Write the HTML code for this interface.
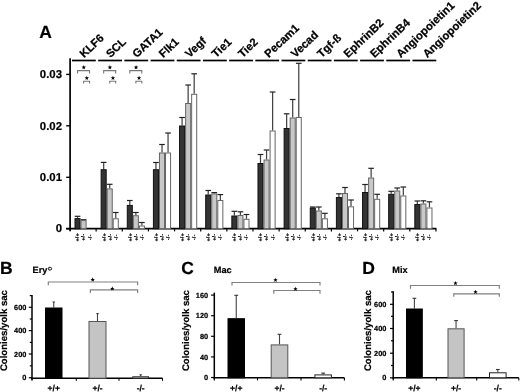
<!DOCTYPE html>
<html><head><meta charset="utf-8"><style>
html,body{margin:0;padding:0;background:#fff;}
body{width:520px;height:392px;overflow:hidden;font-family:"Liberation Sans",sans-serif;}
svg{display:block;filter:grayscale(1);}
text{text-rendering:geometricPrecision;stroke:#000;stroke-width:0.2px;}
</style></head><body>
<svg width="520" height="392" viewBox="0 0 520 392">
<rect width="520" height="392" fill="#fff"/>
<line x1="70.10" y1="58.3" x2="70.10" y2="231.3" stroke="#000" stroke-width="1.7"/>
<line x1="66.2" y1="228.70" x2="436.4" y2="228.70" stroke="#000" stroke-width="1.7"/>
<line x1="66.2" y1="74.40" x2="70.10" y2="74.40" stroke="#000" stroke-width="1.4"/>
<text x="62" y="78.10" font-family="Liberation Sans, sans-serif" font-weight="bold" font-size="11.4" text-anchor="end">0.03</text>
<line x1="66.2" y1="125.80" x2="70.10" y2="125.80" stroke="#000" stroke-width="1.4"/>
<text x="62" y="129.50" font-family="Liberation Sans, sans-serif" font-weight="bold" font-size="11.4" text-anchor="end">0.02</text>
<line x1="66.2" y1="177.30" x2="70.10" y2="177.30" stroke="#000" stroke-width="1.4"/>
<text x="62" y="181.00" font-family="Liberation Sans, sans-serif" font-weight="bold" font-size="11.4" text-anchor="end">0.01</text>
<line x1="66.2" y1="228.70" x2="70.10" y2="228.70" stroke="#000" stroke-width="1.4"/>
<text x="62" y="232.40" font-family="Liberation Sans, sans-serif" font-weight="bold" font-size="11.4" text-anchor="end">0</text>
<line x1="96.14" y1="228.70" x2="96.14" y2="231.4" stroke="#000" stroke-width="1.2"/>
<line x1="122.28" y1="228.70" x2="122.28" y2="231.4" stroke="#000" stroke-width="1.2"/>
<line x1="148.42" y1="228.70" x2="148.42" y2="231.4" stroke="#000" stroke-width="1.2"/>
<line x1="174.56" y1="228.70" x2="174.56" y2="231.4" stroke="#000" stroke-width="1.2"/>
<line x1="200.70" y1="228.70" x2="200.70" y2="231.4" stroke="#000" stroke-width="1.2"/>
<line x1="226.84" y1="228.70" x2="226.84" y2="231.4" stroke="#000" stroke-width="1.2"/>
<line x1="252.98" y1="228.70" x2="252.98" y2="231.4" stroke="#000" stroke-width="1.2"/>
<line x1="279.12" y1="228.70" x2="279.12" y2="231.4" stroke="#000" stroke-width="1.2"/>
<line x1="305.26" y1="228.70" x2="305.26" y2="231.4" stroke="#000" stroke-width="1.2"/>
<line x1="331.40" y1="228.70" x2="331.40" y2="231.4" stroke="#000" stroke-width="1.2"/>
<line x1="357.54" y1="228.70" x2="357.54" y2="231.4" stroke="#000" stroke-width="1.2"/>
<line x1="383.68" y1="228.70" x2="383.68" y2="231.4" stroke="#000" stroke-width="1.2"/>
<line x1="409.82" y1="228.70" x2="409.82" y2="231.4" stroke="#000" stroke-width="1.2"/>
<line x1="435.96" y1="228.70" x2="435.96" y2="231.4" stroke="#000" stroke-width="1.2"/>
<line x1="72.00" y1="60.5" x2="95.80" y2="60.5" stroke="#000" stroke-width="1.7"/>
<line x1="98.19" y1="60.5" x2="121.99" y2="60.5" stroke="#000" stroke-width="1.7"/>
<line x1="124.38" y1="60.5" x2="148.18" y2="60.5" stroke="#000" stroke-width="1.7"/>
<line x1="150.57" y1="60.5" x2="174.37" y2="60.5" stroke="#000" stroke-width="1.7"/>
<line x1="176.76" y1="60.5" x2="200.56" y2="60.5" stroke="#000" stroke-width="1.7"/>
<line x1="202.95" y1="60.5" x2="226.75" y2="60.5" stroke="#000" stroke-width="1.7"/>
<line x1="229.14" y1="60.5" x2="252.94" y2="60.5" stroke="#000" stroke-width="1.7"/>
<line x1="255.33" y1="60.5" x2="279.13" y2="60.5" stroke="#000" stroke-width="1.7"/>
<line x1="281.52" y1="60.5" x2="305.32" y2="60.5" stroke="#000" stroke-width="1.7"/>
<line x1="307.71" y1="60.5" x2="331.51" y2="60.5" stroke="#000" stroke-width="1.7"/>
<line x1="333.90" y1="60.5" x2="357.70" y2="60.5" stroke="#000" stroke-width="1.7"/>
<line x1="360.09" y1="60.5" x2="383.89" y2="60.5" stroke="#000" stroke-width="1.7"/>
<line x1="386.28" y1="60.5" x2="410.08" y2="60.5" stroke="#000" stroke-width="1.7"/>
<line x1="412.47" y1="60.5" x2="436.27" y2="60.5" stroke="#000" stroke-width="1.7"/>
<text transform="translate(84.00 58.30) rotate(-43.5)" style="stroke-width:0.25px" font-family="Liberation Sans, sans-serif" font-weight="bold" font-size="11.3">KLF6</text>
<text transform="translate(110.40 58.30) rotate(-43.5)" style="stroke-width:0.25px" font-family="Liberation Sans, sans-serif" font-weight="bold" font-size="11.3">SCL</text>
<text transform="translate(136.80 58.30) rotate(-43.5)" style="stroke-width:0.25px" font-family="Liberation Sans, sans-serif" font-weight="bold" font-size="11.3">GATA1</text>
<text transform="translate(163.20 58.30) rotate(-43.5)" style="stroke-width:0.25px" font-family="Liberation Sans, sans-serif" font-weight="bold" font-size="11.3">Flk1</text>
<text transform="translate(189.60 58.30) rotate(-43.5)" style="stroke-width:0.25px" font-family="Liberation Sans, sans-serif" font-weight="bold" font-size="11.3">Vegf</text>
<text transform="translate(216.00 58.30) rotate(-43.5)" style="stroke-width:0.25px" font-family="Liberation Sans, sans-serif" font-weight="bold" font-size="11.3">Tie1</text>
<text transform="translate(242.40 58.30) rotate(-43.5)" style="stroke-width:0.25px" font-family="Liberation Sans, sans-serif" font-weight="bold" font-size="11.3">Tie2</text>
<text transform="translate(268.80 58.30) rotate(-43.5)" style="stroke-width:0.25px" font-family="Liberation Sans, sans-serif" font-weight="bold" font-size="11.3">Pecam1</text>
<text transform="translate(295.20 58.30) rotate(-43.5)" style="stroke-width:0.25px" font-family="Liberation Sans, sans-serif" font-weight="bold" font-size="11.3">Vecad</text>
<text transform="translate(321.60 58.30) rotate(-43.5)" style="stroke-width:0.25px" font-family="Liberation Sans, sans-serif" font-weight="bold" font-size="11.3">Tgf-ß</text>
<text transform="translate(348.00 58.30) rotate(-43.5)" style="stroke-width:0.25px" font-family="Liberation Sans, sans-serif" font-weight="bold" font-size="11.3">EphrinB2</text>
<text transform="translate(374.40 58.30) rotate(-43.5)" style="stroke-width:0.25px" font-family="Liberation Sans, sans-serif" font-weight="bold" font-size="11.3">EphrinB4</text>
<text transform="translate(400.80 58.30) rotate(-43.5)" style="stroke-width:0.25px" font-family="Liberation Sans, sans-serif" font-weight="bold" font-size="11.3">Angiopoietin1</text>
<text transform="translate(427.20 58.30) rotate(-43.5)" style="stroke-width:0.25px" font-family="Liberation Sans, sans-serif" font-weight="bold" font-size="11.3">Angiopoietin2</text>
<line x1="77.53" y1="216.30" x2="77.53" y2="218.10" stroke="#444" stroke-width="1.25"/>
<line x1="74.70" y1="216.30" x2="80.35" y2="216.30" stroke="#222" stroke-width="1.2"/>
<rect x="75.00" y="218.60" width="5.05" height="10.10" fill="#333333" stroke="#111111" stroke-width="1"/>
<line x1="83.58" y1="219.70" x2="83.58" y2="220.10" stroke="#444" stroke-width="1.25"/>
<line x1="80.75" y1="219.70" x2="86.40" y2="219.70" stroke="#222" stroke-width="1.2"/>
<rect x="81.05" y="220.60" width="5.05" height="8.10" fill="#c8c8c8" stroke="#666666" stroke-width="1"/>
<text transform="translate(79.43 237.4) rotate(-90)" text-anchor="middle" style="text-rendering:auto;stroke-width:0.1px" font-family="Liberation Sans, sans-serif" font-weight="bold" font-size="5.8" >+/+</text>
<text transform="translate(85.48 237.4) rotate(-90)" text-anchor="middle" style="text-rendering:auto;stroke-width:0.1px" font-family="Liberation Sans, sans-serif" font-weight="bold" font-size="5.8" >+/-</text>
<text transform="translate(91.53 237.4) rotate(-90)" text-anchor="middle" style="text-rendering:auto;stroke-width:0.1px" font-family="Liberation Sans, sans-serif" font-weight="bold" font-size="5.8" >-/-</text>
<line x1="103.67" y1="162.40" x2="103.67" y2="169.20" stroke="#444" stroke-width="1.25"/>
<line x1="100.84" y1="162.40" x2="106.49" y2="162.40" stroke="#222" stroke-width="1.2"/>
<rect x="101.14" y="169.70" width="5.05" height="59.00" fill="#333333" stroke="#111111" stroke-width="1"/>
<line x1="109.72" y1="184.30" x2="109.72" y2="188.40" stroke="#444" stroke-width="1.25"/>
<line x1="106.89" y1="184.30" x2="112.54" y2="184.30" stroke="#222" stroke-width="1.2"/>
<rect x="107.19" y="188.90" width="5.05" height="39.80" fill="#c8c8c8" stroke="#666666" stroke-width="1"/>
<line x1="115.77" y1="212.50" x2="115.77" y2="218.30" stroke="#444" stroke-width="1.25"/>
<line x1="112.94" y1="212.50" x2="118.59" y2="212.50" stroke="#222" stroke-width="1.2"/>
<rect x="113.24" y="218.80" width="5.05" height="9.90" fill="#ffffff" stroke="#666666" stroke-width="1"/>
<text transform="translate(105.57 237.4) rotate(-90)" text-anchor="middle" style="text-rendering:auto;stroke-width:0.1px" font-family="Liberation Sans, sans-serif" font-weight="bold" font-size="5.8" >+/+</text>
<text transform="translate(111.62 237.4) rotate(-90)" text-anchor="middle" style="text-rendering:auto;stroke-width:0.1px" font-family="Liberation Sans, sans-serif" font-weight="bold" font-size="5.8" >+/-</text>
<text transform="translate(117.67 237.4) rotate(-90)" text-anchor="middle" style="text-rendering:auto;stroke-width:0.1px" font-family="Liberation Sans, sans-serif" font-weight="bold" font-size="5.8" >-/-</text>
<line x1="129.81" y1="200.50" x2="129.81" y2="204.90" stroke="#444" stroke-width="1.25"/>
<line x1="126.98" y1="200.50" x2="132.63" y2="200.50" stroke="#222" stroke-width="1.2"/>
<rect x="127.28" y="205.40" width="5.05" height="23.30" fill="#333333" stroke="#111111" stroke-width="1"/>
<line x1="135.86" y1="212.50" x2="135.86" y2="215.20" stroke="#444" stroke-width="1.25"/>
<line x1="133.03" y1="212.50" x2="138.68" y2="212.50" stroke="#222" stroke-width="1.2"/>
<rect x="133.33" y="215.70" width="5.05" height="13.00" fill="#c8c8c8" stroke="#666666" stroke-width="1"/>
<line x1="141.91" y1="222.50" x2="141.91" y2="225.50" stroke="#444" stroke-width="1.25"/>
<line x1="139.08" y1="222.50" x2="144.73" y2="222.50" stroke="#222" stroke-width="1.2"/>
<rect x="139.38" y="226.00" width="5.05" height="2.70" fill="#ffffff" stroke="#666666" stroke-width="1"/>
<text transform="translate(131.71 237.4) rotate(-90)" text-anchor="middle" style="text-rendering:auto;stroke-width:0.1px" font-family="Liberation Sans, sans-serif" font-weight="bold" font-size="5.8" >+/+</text>
<text transform="translate(137.76 237.4) rotate(-90)" text-anchor="middle" style="text-rendering:auto;stroke-width:0.1px" font-family="Liberation Sans, sans-serif" font-weight="bold" font-size="5.8" >+/-</text>
<text transform="translate(143.81 237.4) rotate(-90)" text-anchor="middle" style="text-rendering:auto;stroke-width:0.1px" font-family="Liberation Sans, sans-serif" font-weight="bold" font-size="5.8" >-/-</text>
<line x1="155.95" y1="162.50" x2="155.95" y2="169.20" stroke="#444" stroke-width="1.25"/>
<line x1="153.12" y1="162.50" x2="158.77" y2="162.50" stroke="#222" stroke-width="1.2"/>
<rect x="153.42" y="169.70" width="5.05" height="59.00" fill="#333333" stroke="#111111" stroke-width="1"/>
<line x1="162.00" y1="144.50" x2="162.00" y2="152.50" stroke="#444" stroke-width="1.25"/>
<line x1="159.17" y1="144.50" x2="164.82" y2="144.50" stroke="#222" stroke-width="1.2"/>
<rect x="159.47" y="153.00" width="5.05" height="75.70" fill="#c8c8c8" stroke="#666666" stroke-width="1"/>
<line x1="168.05" y1="133.00" x2="168.05" y2="152.50" stroke="#444" stroke-width="1.25"/>
<line x1="165.22" y1="133.00" x2="170.87" y2="133.00" stroke="#222" stroke-width="1.2"/>
<rect x="165.52" y="153.00" width="5.05" height="75.70" fill="#ffffff" stroke="#666666" stroke-width="1"/>
<text transform="translate(157.85 237.4) rotate(-90)" text-anchor="middle" style="text-rendering:auto;stroke-width:0.1px" font-family="Liberation Sans, sans-serif" font-weight="bold" font-size="5.8" >+/+</text>
<text transform="translate(163.90 237.4) rotate(-90)" text-anchor="middle" style="text-rendering:auto;stroke-width:0.1px" font-family="Liberation Sans, sans-serif" font-weight="bold" font-size="5.8" >+/-</text>
<text transform="translate(169.95 237.4) rotate(-90)" text-anchor="middle" style="text-rendering:auto;stroke-width:0.1px" font-family="Liberation Sans, sans-serif" font-weight="bold" font-size="5.8" >-/-</text>
<line x1="182.09" y1="117.50" x2="182.09" y2="125.50" stroke="#444" stroke-width="1.25"/>
<line x1="179.26" y1="117.50" x2="184.91" y2="117.50" stroke="#222" stroke-width="1.2"/>
<rect x="179.56" y="126.00" width="5.05" height="102.70" fill="#333333" stroke="#111111" stroke-width="1"/>
<line x1="188.14" y1="85.00" x2="188.14" y2="103.00" stroke="#444" stroke-width="1.25"/>
<line x1="185.31" y1="85.00" x2="190.96" y2="85.00" stroke="#222" stroke-width="1.2"/>
<rect x="185.61" y="103.50" width="5.05" height="125.20" fill="#c8c8c8" stroke="#666666" stroke-width="1"/>
<line x1="194.19" y1="73.80" x2="194.19" y2="93.80" stroke="#444" stroke-width="1.25"/>
<line x1="191.36" y1="73.80" x2="197.01" y2="73.80" stroke="#222" stroke-width="1.2"/>
<rect x="191.66" y="94.30" width="5.05" height="134.40" fill="#ffffff" stroke="#666666" stroke-width="1"/>
<text transform="translate(183.99 237.4) rotate(-90)" text-anchor="middle" style="text-rendering:auto;stroke-width:0.1px" font-family="Liberation Sans, sans-serif" font-weight="bold" font-size="5.8" >+/+</text>
<text transform="translate(190.04 237.4) rotate(-90)" text-anchor="middle" style="text-rendering:auto;stroke-width:0.1px" font-family="Liberation Sans, sans-serif" font-weight="bold" font-size="5.8" >+/-</text>
<text transform="translate(196.09 237.4) rotate(-90)" text-anchor="middle" style="text-rendering:auto;stroke-width:0.1px" font-family="Liberation Sans, sans-serif" font-weight="bold" font-size="5.8" >-/-</text>
<line x1="208.22" y1="190.50" x2="208.22" y2="194.50" stroke="#444" stroke-width="1.25"/>
<line x1="205.40" y1="190.50" x2="211.05" y2="190.50" stroke="#222" stroke-width="1.2"/>
<rect x="205.70" y="195.00" width="5.05" height="33.70" fill="#333333" stroke="#111111" stroke-width="1"/>
<line x1="214.28" y1="192.60" x2="214.28" y2="193.40" stroke="#444" stroke-width="1.25"/>
<line x1="211.45" y1="192.60" x2="217.10" y2="192.60" stroke="#222" stroke-width="1.2"/>
<rect x="211.75" y="193.90" width="5.05" height="34.80" fill="#c8c8c8" stroke="#666666" stroke-width="1"/>
<line x1="220.32" y1="194.60" x2="220.32" y2="200.00" stroke="#444" stroke-width="1.25"/>
<line x1="217.50" y1="194.60" x2="223.15" y2="194.60" stroke="#222" stroke-width="1.2"/>
<rect x="217.80" y="200.50" width="5.05" height="28.20" fill="#ffffff" stroke="#666666" stroke-width="1"/>
<text transform="translate(210.12 237.4) rotate(-90)" text-anchor="middle" style="text-rendering:auto;stroke-width:0.1px" font-family="Liberation Sans, sans-serif" font-weight="bold" font-size="5.8" >+/+</text>
<text transform="translate(216.18 237.4) rotate(-90)" text-anchor="middle" style="text-rendering:auto;stroke-width:0.1px" font-family="Liberation Sans, sans-serif" font-weight="bold" font-size="5.8" >+/-</text>
<text transform="translate(222.22 237.4) rotate(-90)" text-anchor="middle" style="text-rendering:auto;stroke-width:0.1px" font-family="Liberation Sans, sans-serif" font-weight="bold" font-size="5.8" >-/-</text>
<line x1="234.37" y1="211.30" x2="234.37" y2="215.50" stroke="#444" stroke-width="1.25"/>
<line x1="231.54" y1="211.30" x2="237.19" y2="211.30" stroke="#222" stroke-width="1.2"/>
<rect x="231.84" y="216.00" width="5.05" height="12.70" fill="#333333" stroke="#111111" stroke-width="1"/>
<line x1="240.42" y1="211.80" x2="240.42" y2="215.00" stroke="#444" stroke-width="1.25"/>
<line x1="237.59" y1="211.80" x2="243.24" y2="211.80" stroke="#222" stroke-width="1.2"/>
<rect x="237.89" y="215.50" width="5.05" height="13.20" fill="#c8c8c8" stroke="#666666" stroke-width="1"/>
<line x1="246.47" y1="214.50" x2="246.47" y2="218.80" stroke="#444" stroke-width="1.25"/>
<line x1="243.64" y1="214.50" x2="249.29" y2="214.50" stroke="#222" stroke-width="1.2"/>
<rect x="243.94" y="219.30" width="5.05" height="9.40" fill="#ffffff" stroke="#666666" stroke-width="1"/>
<text transform="translate(236.27 237.4) rotate(-90)" text-anchor="middle" style="text-rendering:auto;stroke-width:0.1px" font-family="Liberation Sans, sans-serif" font-weight="bold" font-size="5.8" >+/+</text>
<text transform="translate(242.32 237.4) rotate(-90)" text-anchor="middle" style="text-rendering:auto;stroke-width:0.1px" font-family="Liberation Sans, sans-serif" font-weight="bold" font-size="5.8" >+/-</text>
<text transform="translate(248.37 237.4) rotate(-90)" text-anchor="middle" style="text-rendering:auto;stroke-width:0.1px" font-family="Liberation Sans, sans-serif" font-weight="bold" font-size="5.8" >-/-</text>
<line x1="260.50" y1="154.50" x2="260.50" y2="163.00" stroke="#444" stroke-width="1.25"/>
<line x1="257.68" y1="154.50" x2="263.33" y2="154.50" stroke="#222" stroke-width="1.2"/>
<rect x="257.98" y="163.50" width="5.05" height="65.20" fill="#333333" stroke="#111111" stroke-width="1"/>
<line x1="266.56" y1="150.00" x2="266.56" y2="159.50" stroke="#444" stroke-width="1.25"/>
<line x1="263.73" y1="150.00" x2="269.38" y2="150.00" stroke="#222" stroke-width="1.2"/>
<rect x="264.03" y="160.00" width="5.05" height="68.70" fill="#c8c8c8" stroke="#666666" stroke-width="1"/>
<line x1="272.61" y1="92.00" x2="272.61" y2="130.50" stroke="#444" stroke-width="1.25"/>
<line x1="269.78" y1="92.00" x2="275.43" y2="92.00" stroke="#222" stroke-width="1.2"/>
<rect x="270.08" y="131.00" width="5.05" height="97.70" fill="#ffffff" stroke="#666666" stroke-width="1"/>
<text transform="translate(262.40 237.4) rotate(-90)" text-anchor="middle" style="text-rendering:auto;stroke-width:0.1px" font-family="Liberation Sans, sans-serif" font-weight="bold" font-size="5.8" >+/+</text>
<text transform="translate(268.45 237.4) rotate(-90)" text-anchor="middle" style="text-rendering:auto;stroke-width:0.1px" font-family="Liberation Sans, sans-serif" font-weight="bold" font-size="5.8" >+/-</text>
<text transform="translate(274.50 237.4) rotate(-90)" text-anchor="middle" style="text-rendering:auto;stroke-width:0.1px" font-family="Liberation Sans, sans-serif" font-weight="bold" font-size="5.8" >-/-</text>
<line x1="286.64" y1="113.80" x2="286.64" y2="128.00" stroke="#444" stroke-width="1.25"/>
<line x1="283.82" y1="113.80" x2="289.47" y2="113.80" stroke="#222" stroke-width="1.2"/>
<rect x="284.12" y="128.50" width="5.05" height="100.20" fill="#333333" stroke="#111111" stroke-width="1"/>
<line x1="292.69" y1="99.50" x2="292.69" y2="117.50" stroke="#444" stroke-width="1.25"/>
<line x1="289.87" y1="99.50" x2="295.52" y2="99.50" stroke="#222" stroke-width="1.2"/>
<rect x="290.17" y="118.00" width="5.05" height="110.70" fill="#c8c8c8" stroke="#666666" stroke-width="1"/>
<line x1="298.75" y1="63.30" x2="298.75" y2="117.00" stroke="#444" stroke-width="1.25"/>
<line x1="295.92" y1="63.30" x2="301.57" y2="63.30" stroke="#222" stroke-width="1.2"/>
<rect x="296.22" y="117.50" width="5.05" height="111.20" fill="#ffffff" stroke="#666666" stroke-width="1"/>
<text transform="translate(288.54 237.4) rotate(-90)" text-anchor="middle" style="text-rendering:auto;stroke-width:0.1px" font-family="Liberation Sans, sans-serif" font-weight="bold" font-size="5.8" >+/+</text>
<text transform="translate(294.59 237.4) rotate(-90)" text-anchor="middle" style="text-rendering:auto;stroke-width:0.1px" font-family="Liberation Sans, sans-serif" font-weight="bold" font-size="5.8" >+/-</text>
<text transform="translate(300.64 237.4) rotate(-90)" text-anchor="middle" style="text-rendering:auto;stroke-width:0.1px" font-family="Liberation Sans, sans-serif" font-weight="bold" font-size="5.8" >-/-</text>
<line x1="312.78" y1="207.00" x2="312.78" y2="207.50" stroke="#444" stroke-width="1.25"/>
<line x1="309.96" y1="207.00" x2="315.61" y2="207.00" stroke="#222" stroke-width="1.2"/>
<rect x="310.26" y="208.00" width="5.05" height="20.70" fill="#333333" stroke="#111111" stroke-width="1"/>
<line x1="318.83" y1="207.00" x2="318.83" y2="210.50" stroke="#444" stroke-width="1.25"/>
<line x1="316.01" y1="207.00" x2="321.66" y2="207.00" stroke="#222" stroke-width="1.2"/>
<rect x="316.31" y="211.00" width="5.05" height="17.70" fill="#c8c8c8" stroke="#666666" stroke-width="1"/>
<line x1="324.88" y1="213.30" x2="324.88" y2="218.30" stroke="#444" stroke-width="1.25"/>
<line x1="322.06" y1="213.30" x2="327.71" y2="213.30" stroke="#222" stroke-width="1.2"/>
<rect x="322.36" y="218.80" width="5.05" height="9.90" fill="#ffffff" stroke="#666666" stroke-width="1"/>
<text transform="translate(314.68 237.4) rotate(-90)" text-anchor="middle" style="text-rendering:auto;stroke-width:0.1px" font-family="Liberation Sans, sans-serif" font-weight="bold" font-size="5.8" >+/+</text>
<text transform="translate(320.73 237.4) rotate(-90)" text-anchor="middle" style="text-rendering:auto;stroke-width:0.1px" font-family="Liberation Sans, sans-serif" font-weight="bold" font-size="5.8" >+/-</text>
<text transform="translate(326.78 237.4) rotate(-90)" text-anchor="middle" style="text-rendering:auto;stroke-width:0.1px" font-family="Liberation Sans, sans-serif" font-weight="bold" font-size="5.8" >-/-</text>
<line x1="338.92" y1="193.80" x2="338.92" y2="197.00" stroke="#444" stroke-width="1.25"/>
<line x1="336.10" y1="193.80" x2="341.75" y2="193.80" stroke="#222" stroke-width="1.2"/>
<rect x="336.40" y="197.50" width="5.05" height="31.20" fill="#333333" stroke="#111111" stroke-width="1"/>
<line x1="344.97" y1="187.50" x2="344.97" y2="193.00" stroke="#444" stroke-width="1.25"/>
<line x1="342.15" y1="187.50" x2="347.80" y2="187.50" stroke="#222" stroke-width="1.2"/>
<rect x="342.45" y="193.50" width="5.05" height="35.20" fill="#c8c8c8" stroke="#666666" stroke-width="1"/>
<line x1="351.02" y1="200.00" x2="351.02" y2="206.30" stroke="#444" stroke-width="1.25"/>
<line x1="348.20" y1="200.00" x2="353.85" y2="200.00" stroke="#222" stroke-width="1.2"/>
<rect x="348.50" y="206.80" width="5.05" height="21.90" fill="#ffffff" stroke="#666666" stroke-width="1"/>
<text transform="translate(340.82 237.4) rotate(-90)" text-anchor="middle" style="text-rendering:auto;stroke-width:0.1px" font-family="Liberation Sans, sans-serif" font-weight="bold" font-size="5.8" >+/+</text>
<text transform="translate(346.87 237.4) rotate(-90)" text-anchor="middle" style="text-rendering:auto;stroke-width:0.1px" font-family="Liberation Sans, sans-serif" font-weight="bold" font-size="5.8" >+/-</text>
<text transform="translate(352.92 237.4) rotate(-90)" text-anchor="middle" style="text-rendering:auto;stroke-width:0.1px" font-family="Liberation Sans, sans-serif" font-weight="bold" font-size="5.8" >-/-</text>
<line x1="365.06" y1="184.50" x2="365.06" y2="192.00" stroke="#444" stroke-width="1.25"/>
<line x1="362.24" y1="184.50" x2="367.89" y2="184.50" stroke="#222" stroke-width="1.2"/>
<rect x="362.54" y="192.50" width="5.05" height="36.20" fill="#333333" stroke="#111111" stroke-width="1"/>
<line x1="371.12" y1="168.30" x2="371.12" y2="177.50" stroke="#444" stroke-width="1.25"/>
<line x1="368.29" y1="168.30" x2="373.94" y2="168.30" stroke="#222" stroke-width="1.2"/>
<rect x="368.59" y="178.00" width="5.05" height="50.70" fill="#c8c8c8" stroke="#666666" stroke-width="1"/>
<line x1="377.17" y1="194.30" x2="377.17" y2="198.80" stroke="#444" stroke-width="1.25"/>
<line x1="374.34" y1="194.30" x2="379.99" y2="194.30" stroke="#222" stroke-width="1.2"/>
<rect x="374.64" y="199.30" width="5.05" height="29.40" fill="#ffffff" stroke="#666666" stroke-width="1"/>
<text transform="translate(366.96 237.4) rotate(-90)" text-anchor="middle" style="text-rendering:auto;stroke-width:0.1px" font-family="Liberation Sans, sans-serif" font-weight="bold" font-size="5.8" >+/+</text>
<text transform="translate(373.01 237.4) rotate(-90)" text-anchor="middle" style="text-rendering:auto;stroke-width:0.1px" font-family="Liberation Sans, sans-serif" font-weight="bold" font-size="5.8" >+/-</text>
<text transform="translate(379.06 237.4) rotate(-90)" text-anchor="middle" style="text-rendering:auto;stroke-width:0.1px" font-family="Liberation Sans, sans-serif" font-weight="bold" font-size="5.8" >-/-</text>
<line x1="391.20" y1="191.30" x2="391.20" y2="193.80" stroke="#444" stroke-width="1.25"/>
<line x1="388.38" y1="191.30" x2="394.03" y2="191.30" stroke="#222" stroke-width="1.2"/>
<rect x="388.68" y="194.30" width="5.05" height="34.40" fill="#333333" stroke="#111111" stroke-width="1"/>
<line x1="397.25" y1="188.00" x2="397.25" y2="190.50" stroke="#444" stroke-width="1.25"/>
<line x1="394.43" y1="188.00" x2="400.08" y2="188.00" stroke="#222" stroke-width="1.2"/>
<rect x="394.73" y="191.00" width="5.05" height="37.70" fill="#c8c8c8" stroke="#666666" stroke-width="1"/>
<line x1="403.31" y1="187.00" x2="403.31" y2="195.50" stroke="#444" stroke-width="1.25"/>
<line x1="400.48" y1="187.00" x2="406.13" y2="187.00" stroke="#222" stroke-width="1.2"/>
<rect x="400.78" y="196.00" width="5.05" height="32.70" fill="#ffffff" stroke="#666666" stroke-width="1"/>
<text transform="translate(393.10 237.4) rotate(-90)" text-anchor="middle" style="text-rendering:auto;stroke-width:0.1px" font-family="Liberation Sans, sans-serif" font-weight="bold" font-size="5.8" >+/+</text>
<text transform="translate(399.15 237.4) rotate(-90)" text-anchor="middle" style="text-rendering:auto;stroke-width:0.1px" font-family="Liberation Sans, sans-serif" font-weight="bold" font-size="5.8" >+/-</text>
<text transform="translate(405.20 237.4) rotate(-90)" text-anchor="middle" style="text-rendering:auto;stroke-width:0.1px" font-family="Liberation Sans, sans-serif" font-weight="bold" font-size="5.8" >-/-</text>
<line x1="417.34" y1="201.00" x2="417.34" y2="204.00" stroke="#444" stroke-width="1.25"/>
<line x1="414.52" y1="201.00" x2="420.17" y2="201.00" stroke="#222" stroke-width="1.2"/>
<rect x="414.82" y="204.50" width="5.05" height="24.20" fill="#333333" stroke="#111111" stroke-width="1"/>
<line x1="423.39" y1="200.80" x2="423.39" y2="203.50" stroke="#444" stroke-width="1.25"/>
<line x1="420.57" y1="200.80" x2="426.22" y2="200.80" stroke="#222" stroke-width="1.2"/>
<rect x="420.87" y="204.00" width="5.05" height="24.70" fill="#c8c8c8" stroke="#666666" stroke-width="1"/>
<line x1="429.44" y1="201.80" x2="429.44" y2="207.50" stroke="#444" stroke-width="1.25"/>
<line x1="426.62" y1="201.80" x2="432.27" y2="201.80" stroke="#222" stroke-width="1.2"/>
<rect x="426.92" y="208.00" width="5.05" height="20.70" fill="#ffffff" stroke="#666666" stroke-width="1"/>
<text transform="translate(419.24 237.4) rotate(-90)" text-anchor="middle" style="text-rendering:auto;stroke-width:0.1px" font-family="Liberation Sans, sans-serif" font-weight="bold" font-size="5.8" >+/+</text>
<text transform="translate(425.29 237.4) rotate(-90)" text-anchor="middle" style="text-rendering:auto;stroke-width:0.1px" font-family="Liberation Sans, sans-serif" font-weight="bold" font-size="5.8" >+/-</text>
<text transform="translate(431.34 237.4) rotate(-90)" text-anchor="middle" style="text-rendering:auto;stroke-width:0.1px" font-family="Liberation Sans, sans-serif" font-weight="bold" font-size="5.8" >-/-</text>
<path d="M77.53 73.40 V70.60 H89.53 V73.40" fill="none" stroke="#777" stroke-width="1.10"/>
<polygon points="83.78,65.05 84.36,66.60 86.01,66.67 84.71,67.70 85.16,69.30 83.78,68.39 82.39,69.30 82.84,67.70 81.54,66.67 83.19,66.60" fill="#000"/>
<path d="M83.58 83.50 V81.20 H89.53 V83.50" fill="none" stroke="#777" stroke-width="1.10"/>
<polygon points="86.80,75.65 87.38,77.20 89.03,77.27 87.74,78.30 88.18,79.90 86.80,78.99 85.42,79.90 85.86,78.30 84.57,77.27 86.22,77.20" fill="#000"/>
<path d="M103.67 73.40 V70.60 H115.67 V73.40" fill="none" stroke="#777" stroke-width="1.10"/>
<polygon points="109.92,65.05 110.50,66.60 112.15,66.67 110.85,67.70 111.30,69.30 109.92,68.39 108.53,69.30 108.98,67.70 107.68,66.67 109.33,66.60" fill="#000"/>
<path d="M109.72 83.50 V81.20 H115.67 V83.50" fill="none" stroke="#777" stroke-width="1.10"/>
<polygon points="112.94,75.65 113.52,77.20 115.17,77.27 113.88,78.30 114.32,79.90 112.94,78.99 111.56,79.90 112.00,78.30 110.71,77.27 112.36,77.20" fill="#000"/>
<path d="M129.81 73.40 V70.60 H141.81 V73.40" fill="none" stroke="#777" stroke-width="1.10"/>
<polygon points="136.06,65.05 136.64,66.60 138.29,66.67 136.99,67.70 137.44,69.30 136.06,68.39 134.67,69.30 135.12,67.70 133.82,66.67 135.47,66.60" fill="#000"/>
<path d="M135.85 83.50 V81.20 H141.81 V83.50" fill="none" stroke="#777" stroke-width="1.10"/>
<polygon points="139.08,75.65 139.66,77.20 141.31,77.27 140.02,78.30 140.46,79.90 139.08,78.99 137.70,79.90 138.14,78.30 136.85,77.27 138.50,77.20" fill="#000"/>
<text x="39.3" y="37.8" font-family="Liberation Sans, sans-serif" font-weight="bold" font-size="17.5">A</text>
<text x="0.00" y="273.60" font-family="Liberation Sans, sans-serif" font-weight="bold" font-size="17.5">B</text>
<text transform="translate(32.60 272.95) " text-rendering="geometricPrecision" font-family="Liberation Sans, sans-serif" font-weight="bold" font-size="9.2">Ery</text>
<path d="M48.75 267.35 V270.05 H50.2 Q51.65 270.05 51.65 268.7 Q51.65 267.35 50.2 267.35 Z" fill="none" stroke="#111" stroke-width="0.95"/>
<line x1="32.00" y1="295.00" x2="32.00" y2="379.70" stroke="#000" stroke-width="1.5"/>
<line x1="28.80" y1="307.30" x2="32.00" y2="307.30" stroke="#000" stroke-width="1.2"/>
<text x="26.40" y="309.90" font-family="Liberation Sans, sans-serif" font-weight="bold" font-size="7.4" text-anchor="end">600</text>
<line x1="28.80" y1="330.60" x2="32.00" y2="330.60" stroke="#000" stroke-width="1.2"/>
<text x="26.40" y="333.20" font-family="Liberation Sans, sans-serif" font-weight="bold" font-size="7.4" text-anchor="end">400</text>
<line x1="28.80" y1="354.00" x2="32.00" y2="354.00" stroke="#000" stroke-width="1.2"/>
<text x="26.40" y="356.60" font-family="Liberation Sans, sans-serif" font-weight="bold" font-size="7.4" text-anchor="end">200</text>
<line x1="28.80" y1="377.70" x2="32.00" y2="377.70" stroke="#000" stroke-width="1.2"/>
<text x="26.40" y="380.30" font-family="Liberation Sans, sans-serif" font-weight="bold" font-size="7.4" text-anchor="end">0</text>
<line x1="29.80" y1="295.60" x2="32.00" y2="295.60" stroke="#000" stroke-width="1.2"/>
<line x1="29.80" y1="319.00" x2="32.00" y2="319.00" stroke="#000" stroke-width="1.2"/>
<line x1="29.80" y1="342.40" x2="32.00" y2="342.40" stroke="#000" stroke-width="1.2"/>
<line x1="29.80" y1="365.80" x2="32.00" y2="365.80" stroke="#000" stroke-width="1.2"/>
<line x1="31.30" y1="378.20" x2="162.50" y2="378.20" stroke="#000" stroke-width="1.6"/>
<line x1="32.00" y1="378.20" x2="32.00" y2="380.80" stroke="#000" stroke-width="1.1"/>
<line x1="76.30" y1="378.20" x2="76.30" y2="380.80" stroke="#000" stroke-width="1.1"/>
<line x1="119.00" y1="378.20" x2="119.00" y2="380.80" stroke="#000" stroke-width="1.1"/>
<line x1="162.50" y1="378.20" x2="162.50" y2="380.80" stroke="#000" stroke-width="1.1"/>
<line x1="53.75" y1="302.00" x2="53.75" y2="307.50" stroke="#444" stroke-width="1.1"/>
<line x1="52.60" y1="302.00" x2="54.90" y2="302.00" stroke="#333" stroke-width="1.1"/>
<rect x="45.50" y="308.00" width="16.50" height="70.20" fill="#000000" stroke="#000000" stroke-width="1"/>
<text x="53.75" y="391.2" font-family="Liberation Sans, sans-serif" font-weight="bold" font-size="8.5" text-anchor="middle">+/+</text>
<line x1="97.50" y1="313.60" x2="97.50" y2="321.00" stroke="#444" stroke-width="1.1"/>
<line x1="96.35" y1="313.60" x2="98.65" y2="313.60" stroke="#333" stroke-width="1.1"/>
<rect x="89.00" y="321.50" width="17.00" height="56.70" fill="#c4c4c4" stroke="#555555" stroke-width="1"/>
<text x="97.50" y="391.2" font-family="Liberation Sans, sans-serif" font-weight="bold" font-size="8.5" text-anchor="middle">+/-</text>
<line x1="140.65" y1="374.80" x2="140.65" y2="376.30" stroke="#444" stroke-width="1.1"/>
<line x1="139.50" y1="374.80" x2="141.80" y2="374.80" stroke="#333" stroke-width="1.1"/>
<rect x="132.80" y="376.80" width="15.70" height="1.40" fill="#ffffff" stroke="#222222" stroke-width="1"/>
<text x="140.65" y="391.2" font-family="Liberation Sans, sans-serif" font-weight="bold" font-size="8.5" text-anchor="middle">-/-</text>
<path d="M48.30 285.20 V282.00 H137.60 V285.20" fill="none" stroke="#808080" stroke-width="1.20"/>
<polygon points="92.70,277.35 93.28,278.90 94.93,278.97 93.64,280.00 94.08,281.60 92.70,280.69 91.32,281.60 91.76,280.00 90.47,278.97 92.12,278.90" fill="#000"/>
<path d="M90.40 293.00 V289.80 H137.60 V293.00" fill="none" stroke="#808080" stroke-width="1.20"/>
<polygon points="112.30,286.35 112.88,287.90 114.53,287.97 113.24,289.00 113.68,290.60 112.30,289.69 110.92,290.60 111.36,289.00 110.07,287.97 111.72,287.90" fill="#000"/>
<text transform="translate(7.30 330.6) rotate(-90)" font-family="Liberation Sans, sans-serif" font-weight="bold" font-size="9.6" text-anchor="middle">Colonies/yolk sac</text>
<text x="181.30" y="273.60" font-family="Liberation Sans, sans-serif" font-weight="bold" font-size="17.5">C</text>
<text transform="translate(213.80 272.95) " text-rendering="geometricPrecision" font-family="Liberation Sans, sans-serif" font-weight="bold" font-size="9.2">Mac</text>
<line x1="214.30" y1="292.60" x2="214.30" y2="379.30" stroke="#000" stroke-width="1.5"/>
<line x1="211.10" y1="295.10" x2="214.30" y2="295.10" stroke="#000" stroke-width="1.2"/>
<text x="208.20" y="297.70" font-family="Liberation Sans, sans-serif" font-weight="bold" font-size="7.4" text-anchor="end">160</text>
<line x1="211.10" y1="315.70" x2="214.30" y2="315.70" stroke="#000" stroke-width="1.2"/>
<text x="208.20" y="318.30" font-family="Liberation Sans, sans-serif" font-weight="bold" font-size="7.4" text-anchor="end">120</text>
<line x1="211.10" y1="336.30" x2="214.30" y2="336.30" stroke="#000" stroke-width="1.2"/>
<text x="208.20" y="338.90" font-family="Liberation Sans, sans-serif" font-weight="bold" font-size="7.4" text-anchor="end">80</text>
<line x1="211.10" y1="356.90" x2="214.30" y2="356.90" stroke="#000" stroke-width="1.2"/>
<text x="208.20" y="359.50" font-family="Liberation Sans, sans-serif" font-weight="bold" font-size="7.4" text-anchor="end">40</text>
<line x1="211.10" y1="377.50" x2="214.30" y2="377.50" stroke="#000" stroke-width="1.2"/>
<text x="208.20" y="380.10" font-family="Liberation Sans, sans-serif" font-weight="bold" font-size="7.4" text-anchor="end">0</text>
<line x1="213.60" y1="377.80" x2="344.40" y2="377.80" stroke="#000" stroke-width="1.6"/>
<line x1="214.30" y1="377.80" x2="214.30" y2="380.40" stroke="#000" stroke-width="1.1"/>
<line x1="257.50" y1="377.80" x2="257.50" y2="380.40" stroke="#000" stroke-width="1.1"/>
<line x1="301.00" y1="377.80" x2="301.00" y2="380.40" stroke="#000" stroke-width="1.1"/>
<line x1="344.40" y1="377.80" x2="344.40" y2="380.40" stroke="#000" stroke-width="1.1"/>
<line x1="236.25" y1="295.30" x2="236.25" y2="318.20" stroke="#444" stroke-width="1.1"/>
<line x1="234.35" y1="295.30" x2="238.15" y2="295.30" stroke="#333" stroke-width="1.1"/>
<rect x="228.00" y="318.70" width="16.50" height="59.10" fill="#000000" stroke="#000000" stroke-width="1"/>
<text x="236.25" y="391.2" font-family="Liberation Sans, sans-serif" font-weight="bold" font-size="8.5" text-anchor="middle">+/+</text>
<line x1="279.50" y1="334.30" x2="279.50" y2="344.40" stroke="#444" stroke-width="1.1"/>
<line x1="277.60" y1="334.30" x2="281.40" y2="334.30" stroke="#333" stroke-width="1.1"/>
<rect x="271.20" y="344.90" width="16.60" height="32.90" fill="#c4c4c4" stroke="#555555" stroke-width="1"/>
<text x="279.50" y="391.2" font-family="Liberation Sans, sans-serif" font-weight="bold" font-size="8.5" text-anchor="middle">+/-</text>
<line x1="323.15" y1="373.10" x2="323.15" y2="374.40" stroke="#444" stroke-width="1.1"/>
<line x1="321.25" y1="373.10" x2="325.05" y2="373.10" stroke="#333" stroke-width="1.1"/>
<rect x="314.90" y="374.90" width="16.50" height="2.90" fill="#ffffff" stroke="#222222" stroke-width="1"/>
<text x="323.15" y="391.2" font-family="Liberation Sans, sans-serif" font-weight="bold" font-size="8.5" text-anchor="middle">-/-</text>
<path d="M232.00 285.50 V282.50 H320.00 V285.50" fill="none" stroke="#808080" stroke-width="1.20"/>
<polygon points="275.50,277.65 276.08,279.20 277.73,279.27 276.44,280.30 276.88,281.90 275.50,280.99 274.12,281.90 274.56,280.30 273.27,279.27 274.92,279.20" fill="#000"/>
<path d="M273.80 293.70 V290.50 H320.00 V293.70" fill="none" stroke="#808080" stroke-width="1.20"/>
<polygon points="295.50,286.65 296.08,288.20 297.73,288.27 296.44,289.30 296.88,290.90 295.50,289.99 294.12,290.90 294.56,289.30 293.27,288.27 294.92,288.20" fill="#000"/>
<text transform="translate(189.30 330.6) rotate(-90)" font-family="Liberation Sans, sans-serif" font-weight="bold" font-size="9.6" text-anchor="middle">Colonies/yolk sac</text>
<text x="362.30" y="274.10" font-family="Liberation Sans, sans-serif" font-weight="bold" font-size="17.5">D</text>
<text transform="translate(392.30 272.95) " text-rendering="geometricPrecision" font-family="Liberation Sans, sans-serif" font-weight="bold" font-size="9.2">Mix</text>
<line x1="393.20" y1="291.30" x2="393.20" y2="379.30" stroke="#000" stroke-width="1.5"/>
<line x1="390.00" y1="304.30" x2="393.20" y2="304.30" stroke="#000" stroke-width="1.2"/>
<text x="386.40" y="306.90" font-family="Liberation Sans, sans-serif" font-weight="bold" font-size="7.4" text-anchor="end">600</text>
<line x1="390.00" y1="328.50" x2="393.20" y2="328.50" stroke="#000" stroke-width="1.2"/>
<text x="386.40" y="331.10" font-family="Liberation Sans, sans-serif" font-weight="bold" font-size="7.4" text-anchor="end">400</text>
<line x1="390.00" y1="353.20" x2="393.20" y2="353.20" stroke="#000" stroke-width="1.2"/>
<text x="386.40" y="355.80" font-family="Liberation Sans, sans-serif" font-weight="bold" font-size="7.4" text-anchor="end">200</text>
<line x1="390.00" y1="377.80" x2="393.20" y2="377.80" stroke="#000" stroke-width="1.2"/>
<text x="386.40" y="380.40" font-family="Liberation Sans, sans-serif" font-weight="bold" font-size="7.4" text-anchor="end">0</text>
<line x1="391.00" y1="292.00" x2="393.20" y2="292.00" stroke="#000" stroke-width="1.2"/>
<line x1="391.00" y1="316.30" x2="393.20" y2="316.30" stroke="#000" stroke-width="1.2"/>
<line x1="391.00" y1="340.80" x2="393.20" y2="340.80" stroke="#000" stroke-width="1.2"/>
<line x1="391.00" y1="365.50" x2="393.20" y2="365.50" stroke="#000" stroke-width="1.2"/>
<line x1="392.50" y1="377.80" x2="518.80" y2="377.80" stroke="#000" stroke-width="1.6"/>
<line x1="393.20" y1="377.80" x2="393.20" y2="380.40" stroke="#000" stroke-width="1.1"/>
<line x1="436.30" y1="377.80" x2="436.30" y2="380.40" stroke="#000" stroke-width="1.1"/>
<line x1="476.70" y1="377.80" x2="476.70" y2="380.40" stroke="#000" stroke-width="1.1"/>
<line x1="518.80" y1="377.80" x2="518.80" y2="380.40" stroke="#000" stroke-width="1.1"/>
<line x1="414.40" y1="298.30" x2="414.40" y2="308.50" stroke="#444" stroke-width="1.1"/>
<line x1="412.55" y1="298.30" x2="416.25" y2="298.30" stroke="#333" stroke-width="1.1"/>
<rect x="406.50" y="309.00" width="15.80" height="68.80" fill="#000000" stroke="#000000" stroke-width="1"/>
<text x="414.40" y="391.2" font-family="Liberation Sans, sans-serif" font-weight="bold" font-size="8.5" text-anchor="middle">+/+</text>
<line x1="456.05" y1="320.60" x2="456.05" y2="328.30" stroke="#444" stroke-width="1.1"/>
<line x1="454.20" y1="320.60" x2="457.90" y2="320.60" stroke="#333" stroke-width="1.1"/>
<rect x="448.00" y="328.80" width="16.10" height="49.00" fill="#c4c4c4" stroke="#555555" stroke-width="1"/>
<text x="456.05" y="391.2" font-family="Liberation Sans, sans-serif" font-weight="bold" font-size="8.5" text-anchor="middle">+/-</text>
<line x1="497.80" y1="369.50" x2="497.80" y2="372.30" stroke="#444" stroke-width="1.1"/>
<line x1="495.95" y1="369.50" x2="499.65" y2="369.50" stroke="#333" stroke-width="1.1"/>
<rect x="489.50" y="372.80" width="16.60" height="5.00" fill="#ffffff" stroke="#222222" stroke-width="1"/>
<text x="497.80" y="391.2" font-family="Liberation Sans, sans-serif" font-weight="bold" font-size="8.5" text-anchor="middle">-/-</text>
<path d="M410.50 288.70 V285.50 H499.30 V288.70" fill="none" stroke="#808080" stroke-width="1.20"/>
<polygon points="455.50,280.95 456.08,282.50 457.73,282.57 456.44,283.60 456.88,285.20 455.50,284.29 454.12,285.20 454.56,283.60 453.27,282.57 454.92,282.50" fill="#000"/>
<path d="M453.80 296.80 V293.80 H499.30 V296.80" fill="none" stroke="#808080" stroke-width="1.20"/>
<polygon points="475.50,289.65 476.08,291.20 477.73,291.27 476.44,292.30 476.88,293.90 475.50,292.99 474.12,293.90 474.56,292.30 473.27,291.27 474.92,291.20" fill="#000"/>
<text transform="translate(371.30 330.6) rotate(-90)" font-family="Liberation Sans, sans-serif" font-weight="bold" font-size="9.6" text-anchor="middle">Colonies/yolk sac</text>
</svg>
</body></html>
